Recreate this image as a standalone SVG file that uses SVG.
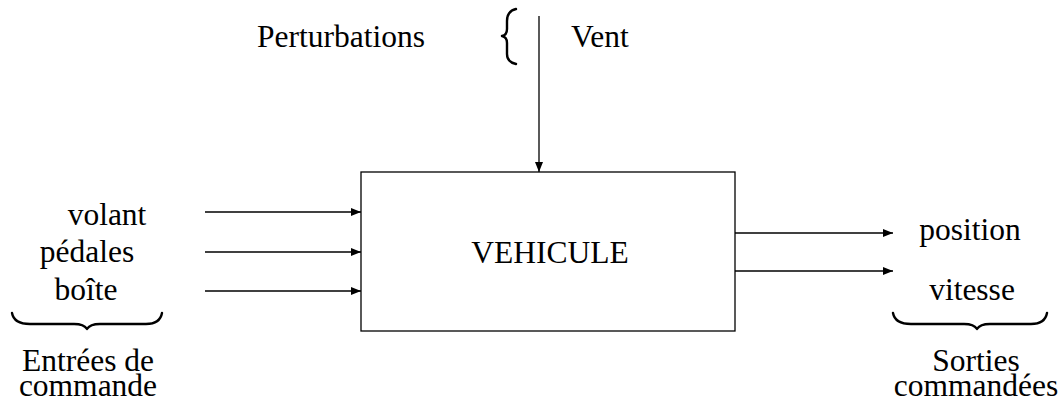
<svg xmlns="http://www.w3.org/2000/svg" width="1064" height="401" viewBox="0 0 1064 401">
<defs>
<style>
text{font-family:"Liberation Serif","Times New Roman",serif;font-size:31.5px;fill:#000}
.c{text-anchor:middle}
.ln{stroke:#000;stroke-width:1.3;fill:none}
.br{stroke:#000;stroke-width:2.4;fill:none;stroke-linejoin:round;stroke-linecap:round}
</style>
<marker id="ah" viewBox="0 0 10 8" refX="10" refY="4" markerWidth="10" markerHeight="8" markerUnits="userSpaceOnUse" orient="auto">
<path d="M0,0 L10,4 L0,8 Z" fill="#000"/>
</marker>
</defs>
<rect width="1064" height="401" fill="#fff"/>
<g id="vehicule">
<rect x="361" y="172" width="374" height="159" fill="#fff" stroke="#000" stroke-width="1.3"/>
<text x="550" y="263" class="c">VEHICULE</text>
</g>
<g id="perturbations">
<text x="257" y="47">Perturbations</text>
<path class="br" d="M516,9 Q507,11 507,21 L507,29 Q507,35 502,36 Q507,37 507,43 L507,54 Q507,62 516,64"/>
<text x="571" y="47">Vent</text>
</g>
<g id="entrees">
<text x="107" y="225" class="c">volant</text>
<text x="87" y="262" class="c">pédales</text>
<text x="86" y="300" class="c">boîte</text>
<path class="br" d="M12,313 Q14,324 30,324 L74,324 Q84,324 87,329 Q90,324 100,324 L146,324 Q160,324 162,313"/>
<text x="88" y="371" class="c">Entrées de</text>
<text x="88" y="396" class="c">commande</text>
</g>
<g id="sorties">
<text x="970" y="240" class="c">position</text>
<text x="972" y="300" class="c">vitesse</text>
<path class="br" d="M893,313 Q895,324 911,324 L964,324 Q974,324 977,329 Q980,324 990,324 L1031,324 Q1045,324 1047,313"/>
<text x="976" y="371" class="c">Sorties</text>
<text x="976" y="396" class="c">commandées</text>
</g>
<g id="connectors">
<line class="ln" x1="539" y1="16" x2="539" y2="172" marker-end="url(#ah)"/>
<line class="ln" x1="205" y1="212" x2="361" y2="212" marker-end="url(#ah)"/>
<line class="ln" x1="205" y1="252" x2="361" y2="252" marker-end="url(#ah)"/>
<line class="ln" x1="205" y1="291" x2="361" y2="291" marker-end="url(#ah)"/>
<line class="ln" x1="735" y1="233" x2="893" y2="233" marker-end="url(#ah)"/>
<line class="ln" x1="735" y1="271" x2="893" y2="271" marker-end="url(#ah)"/>
</g>
</svg>
